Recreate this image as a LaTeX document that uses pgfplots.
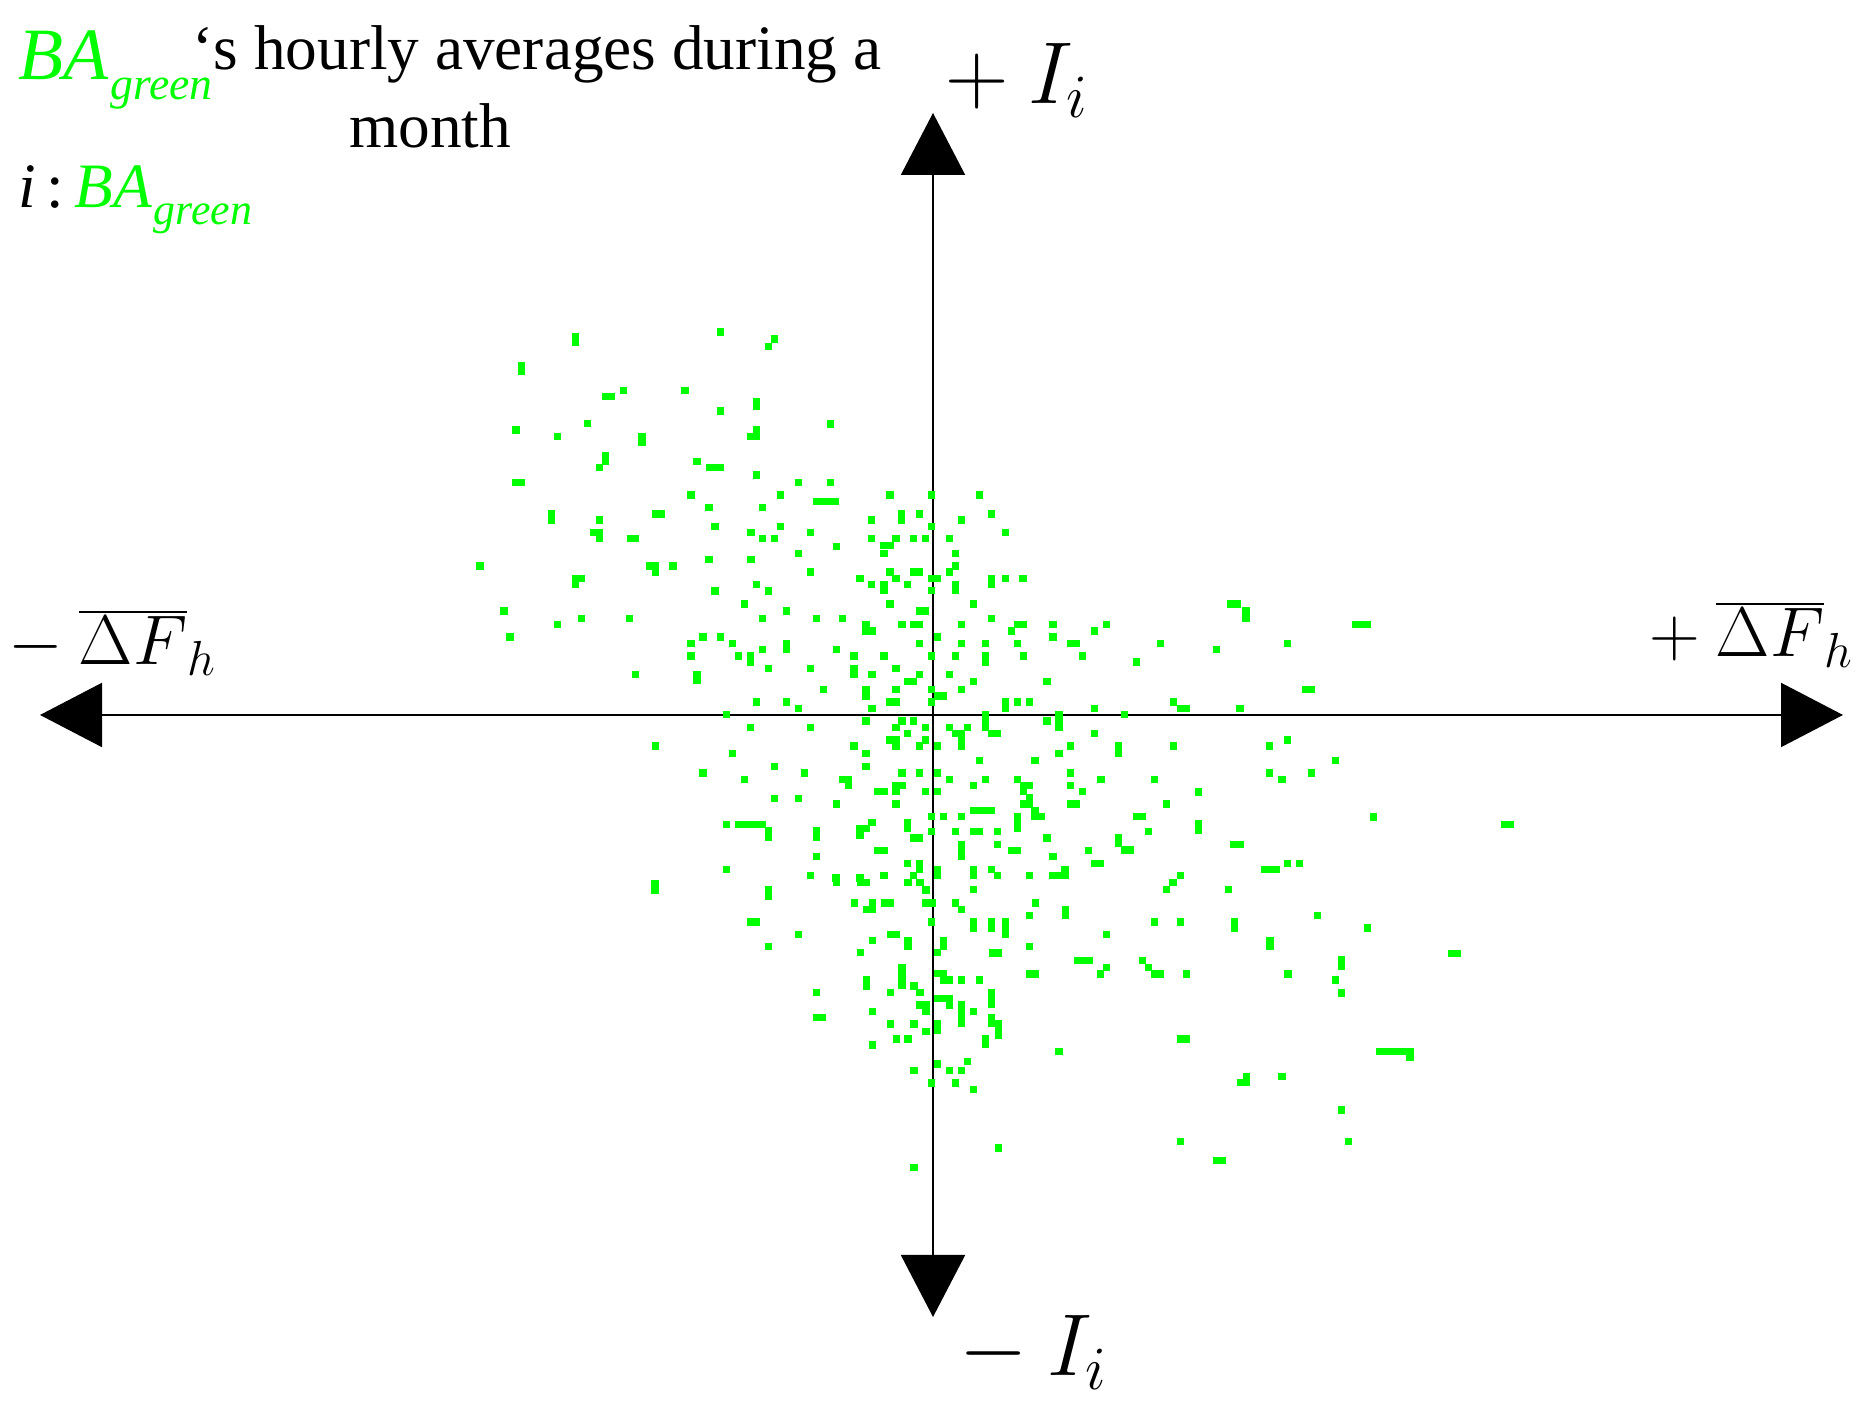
\RequirePackage{fix-cm}
\documentclass[border=0pt]{standalone}
\usepackage[no-math]{fontspec}
\setmainfont{Liberation Serif}
\usepackage{pgfplots}
\pgfplotsset{compat=1.18}
\usepackage{pgfplotstable}
\usetikzlibrary{arrows.meta}
\definecolor{pg}{RGB}{0,255,0}

% pixel positions (x to the right, y downward) of the hourly averages
\pgfplotstableread{
x y
720.7 332
774.3 339
768.7 346.3
575.3 336.7
575.3 342
521.7 365.7
521.7 371.7
605.3 396.7
611.3 396.7
623.3 390.3
685 390.3
720.7 411
756.7 401.7
756.7 406.7
516 430
557.7 436.3
587.3 423.7
642 436.7
642 442.7
756.7 430
751 436.3
756.7 436.3
605.3 455.7
605.3 461.7
599.3 467.7
697 461.3
709.3 467.7
715.3 467.7
720.7 467.7
756.7 475
516 482.7
521.7 482.7
798.3 482.7
691 495
780.3 495
816.7 501.3
551.7 514
551.7 520
599.3 520
655.3 514
661 514
709 507.7
762.7 507.7
715 526.3
780.3 526.3
593.3 532.3
599.3 532.3
599.3 538.7
630.3 538.7
635.7 538.7
751 532.3
762.7 538.7
774.3 538.7
810.3 532.3
798.3 553.3
480 566
649.3 566
655.3 566
655.3 572
673 566
709 559.7
751 559.7
810.3 572
575.3 578.3
581.3 578.3
575.3 584.3
756.7 584.7
715 591
768.7 591
830.3 424
830.3 482.7
823.3 501.3
829.3 501.3
835.3 501.3
890 495
931.7 495
979.3 495
871.7 520
901.7 514
901.7 520
919.7 514
961.3 520
991.3 514
931.7 526.3
1005.3 532.3
871.7 538.7
896 538.7
884 545.7
890 545.7
884 553.3
913.7 538.7
925.7 538.7
949.7 538.7
836.3 546.7
955.3 553.3
955.3 566
949.7 572
890 572
913.7 572
919.7 572
860 578.3
896 578.3
871.7 584.7
884 584.7
884 590.7
907.7 584.7
931.7 578.3
937.3 578.3
931.7 590.7
955.3 584.7
955.3 590.7
991.3 578.3
991.3 584.7
1005.3 578.3
1023 578.3
504 611
557.7 624.7
581.7 618.3
629.3 618.3
510 637
744.7 604
762.7 618.3
786.3 611
816.7 618.3
691 643.3
703 637
720.7 637
732.7 643.3
762.7 649.7
786.3 643.3
786.3 649.3
691 656
738.7 656
750.7 656
750.7 662
768.7 668.7
810.3 668.7
635.3 674.7
697 674.7
697 680.7
756.7 702
786.3 702
798.3 708.3
726.7 714.7
750.7 727.3
810.3 727.3
655.3 746
732.7 753.3
774.3 766.7
703 773
744.7 779.3
804.3 773
774.3 798.3
798.3 798.3
726.7 824.7
738.7 824.7
744.7 824.7
750.7 824.7
756.7 824.7
762.7 824.7
768.7 831
768.7 837
816.7 831
816.7 837
816.7 856.7
726.7 869.3
810.3 875.3
890 604
973.3 604
919.7 611
925.7 611
842.3 618.3
991.3 618.3
866 624.7
866 631
872 631
902 624.7
913.7 624.7
919.7 624.7
961.3 624.7
1017.7 624.7
1023.3 624.7
1011.3 631
1053 624.7
1106.7 624.7
1094.7 631
937.3 637
919.7 643.3
961.3 643.3
985.3 643.3
1017.7 643.3
1053 637
1070.7 643.3
1076.7 643.3
1160.3 643.3
836.3 649.7
854 656
884 656
931.7 656
955.3 656
985.3 656
985.3 662.7
1023.3 656
1082.7 656
1136.3 662
854 668.7
854 674.7
896 668.7
872 674.7
919.7 674.7
949.7 674.7
907.7 681.7
913.7 681.7
973.3 681.7
1047 681.7
823.3 689.3
866 689.3
866 696
896 689.3
931.7 689.3
961.3 689.3
937.3 696
943.3 696
890 702
896 702
931.7 702
1005.3 702
1005.3 708.3
1017.7 702
1029.3 702
872 708.3
1094.7 708.3
866 721
902 721
913.7 721
985.3 714.7
985.3 721
985.3 727.3
1059 714.7
1059 721
1059 727.3
1124.3 714.7
1047 721
896 727.3
925.7 727.3
949.7 727.3
967.3 727.3
955.3 733.3
961.3 733.3
961.3 740
961.3 746
991.3 733.3
997.3 733.3
1094.7 733.3
907.7 733.3
890 740
896 740
896 746
925.7 740
854 746
919.7 746
937.3 746
1070.7 746
1118.7 746
1118.7 753.3
866 753.3
1059 753.3
979.3 760.7
1035 760.7
866 766.7
902 773
919.7 773
937.3 773
1070.7 773
842.3 779.3
848.3 779.3
848.3 785.3
949.7 779.3
985.3 779.3
1017.7 779.3
1101 779.3
1154.3 779.3
973.3 785.3
1023.3 785.3
1029.3 785.3
1023.3 791.7
1070.7 785.3
878 791.7
884 791.7
896 785.3
902 785.3
896 791.7
925.7 791.7
937.3 791.7
1082.7 791.7
836.3 804
896 804
1029.3 798
1023.3 804
1029.3 804
1070.7 804
1076.7 804
1166.7 804
973.3 810.7
979.3 810.7
985.3 810.7
991.3 810.7
1035 810.7
1035 816.7
1041 816.7
931.7 816.7
943.3 816.7
961.3 816.7
1017.7 816.7
1017.7 822.7
1017.7 828.7
1136.3 816.7
1142.3 816.7
872 822.7
866 828.7
860 828.7
860 835
907.7 822.7
907.7 828.7
931.7 831.3
955.3 831.3
973.3 831.3
979.3 831.3
997.3 831.3
1148.3 831.3
913.7 838
919.7 838
1047 838
1118.7 838
1118.7 843.3
1124.3 850
1130.3 850
997.3 844.3
961.3 844.3
961.3 850.3
961.3 856.3
878 850.3
884 850.3
1011.3 850.3
1017.7 850.3
1088.7 850.3
1053 856.7
907.7 863.3
919.7 863.3
919.7 869.3
913.7 875.3
1094.7 863.3
1100.7 863.3
937.3 869.3
937.3 875.3
973.3 869.3
973.3 875.3
991.3 869.3
997.3 875.3
1029.3 875.3
1053 875.3
1059 875.3
1065 869.3
1065 875.3
884 875.3
836 878
860 878
1231 604
1237 604
1246 611
1246 618.3
1355.3 624.7
1361.3 624.7
1367.3 624.7
1287.7 643.3
1216.3 649.7
1305.3 689.3
1311.3 689.3
1173.3 702
1180.3 708.3
1186.3 708.3
1240 708.3
1173.3 746
1269.7 746
1287.7 740
1335.7 760.7
1269.7 773
1282 779.3
1311.7 773
1198.3 792
1373.3 817
1198.3 823.3
1198.3 830.7
1504.3 824.7
1510.3 824.7
1234 844.3
1240 844.3
1264.7 869.3
1270.7 869.3
1276.7 869.3
1287.7 863.3
1299.7 863.3
1180.3 875.3
655 884
655 890
768.3 890
768.3 896
836.3 882.7
860.3 882.7
866.3 882.7
908 882.7
920 882.7
926 890
854.3 903
872.3 903
866.3 909.3
872.3 909.3
884.3 903
890.3 903
926 903
932 903
955.3 903
961.3 909.3
750.3 922
756.3 922
931.3 922
798.3 934.3
890.3 934.3
896.3 934.3
872.3 940.7
908 940.7
908 946.7
943.3 940.7
943.3 946.7
937.3 952.7
768.3 946.7
860.3 952.7
902 967.7
902 973.7
902 979.7
902 985.7
937.3 973.7
943.3 973.7
943.3 980
949.3 980
961.3 980
866.3 980
866.3 986
914 986
920 992.7
816.3 992.7
890.3 992.7
937.3 998.7
943.3 998.7
949.3 998.7
949.3 1005
920 1005
926 1005
926 1011.3
961.3 1005
961.3 1011.3
961.3 1017.3
961.3 1023.3
872.3 1011.3
816.3 1017.3
822.3 1017.3
890.3 1024
914 1024
937.3 1024
937.3 1030
926 1031.7
896.3 1039
908 1039
872.3 1045
937.3 1064
967.3 1061.7
914 1070.3
949.3 1070.3
961.3 1070.3
931.3 1083
955.3 1083
914 1167.3
973.3 889.3
1166.3 889.3
1173 882.7
1228.3 889.3
1035.3 903
1029.3 915.3
1065.3 909.3
1065.3 915.3
973.3 922
973.3 928
991.7 922
991.7 928
1005.3 922
1005.3 928
1005.3 934
1154.3 922
1180.3 922
1234.3 922
1234.3 928
1317.3 915.3
1106.7 934.3
1270 940.7
1270 946.7
1029.3 946.7
992.3 953
998.3 953
1077.3 960.7
1083.3 960.7
1089.3 960.7
1142.7 960.7
1148.7 967.7
1154.7 974
1160.7 974
1106.7 967.7
1100.7 974
1029.3 974
1035.3 974
1186.3 974
1288 974
979.3 980
991.7 992.7
991.7 998.7
991.7 1004.7
973.3 1011.7
991.7 1017.3
991.7 1023.3
998.3 1023.3
998.3 1029.3
998.3 1035.3
985.3 1038.3
985.3 1044.3
1059 1051.3
1180.7 1039
1186.7 1039
973.3 1089.3
1246.3 1076.7
1240.3 1082.7
1246.3 1082.7
1282 1076.7
998.3 1148
1180.3 1141.3
1216.3 1160.3
1222.3 1160.3
1380 1051.7
1386 1051.7
1392 1051.7
1398 1051.7
1404 1051.7
1410 1051.7
1410 1057.7
1341.7 1110
1348.7 1141.3
1367.7 928
1451.7 953.3
1457.7 953.3
1341.7 960
1341.7 966.7
1335.7 980
1341.7 993
}\pts

\begin{document}
\begin{tikzpicture}
\begin{axis}[
  x=0.1mm, y=0.1mm,
  xmin=-933, xmax=927, ymin=-693, ymax=715,
  hide axis, clip=false,
]
\path (axis cs:-933,-693) rectangle (axis cs:927,715);
\draw[line width=0.2mm, {Triangle[length=6.2mm,width=6.4mm]}-{Triangle[length=6.2mm,width=6.4mm]}]
  (axis cs:-893,0) -- (axis cs:910,0);
\draw[line width=0.2mm, {Triangle[length=6.2mm,width=6.4mm]}-{Triangle[length=6.2mm,width=6.4mm]}]
  (axis cs:0,-602) -- (axis cs:0,602);

\addplot[only marks, mark=square*, mark size=0.3mm, color=pg,
  mark options={draw=none, fill=pg}]
  table[x expr=\thisrow{x}-933, y expr=715-\thisrow{y}] {\pts};

% title
\node (b1) [anchor=base west, inner sep=0, text=pg, font=\fontsize{21}{24}\selectfont\itshape]
  at (axis cs:-915,635) {BA};
\node[anchor=base west, inner sep=0, text=pg, font=\fontsize{13}{15}\selectfont\itshape]
  at ([yshift=-2mm]b1.base east) {green};
\node[anchor=base west, inner sep=0, font=\fontsize{18}{20}\selectfont]
  at (axis cs:-741,645) {‘s hourly averages during a};
\node[anchor=base, inner sep=0, font=\fontsize{18}{20}\selectfont]
  at (axis cs:-503,567) {month};
\node (b2) [anchor=base west, inner sep=0, font=\fontsize{18}{20}\selectfont]
  at (axis cs:-915,507) {\textit{i}\,:\,\textcolor{pg}{\textit{BA}}};
\node[anchor=base west, inner sep=0, text=pg, font=\fontsize{12.5}{15}\selectfont\itshape]
  at ([yshift=-1.7mm]b2.base east) {green};

% axis labels
\node[anchor=base west, inner sep=0, font=\fontsize{20}{24}\selectfont]
  at (axis cs:-925,50) {$-\:\overline{\Delta F}_{h}$};
\node[anchor=base west, inner sep=0, font=\fontsize{20}{24}\selectfont]
  at (axis cs:716,58) {$+\:\overline{\Delta F}_{h}$};
\node[anchor=base west, inner sep=0, font=\fontsize{25}{28}\selectfont]
  at (axis cs:12,611) {$+\:I_{i}$};
\node[anchor=base west, inner sep=0, font=\fontsize{25}{28}\selectfont]
  at (axis cs:26,-661) {$-\:I_{i}$};
\end{axis}
\end{tikzpicture}
\end{document}
